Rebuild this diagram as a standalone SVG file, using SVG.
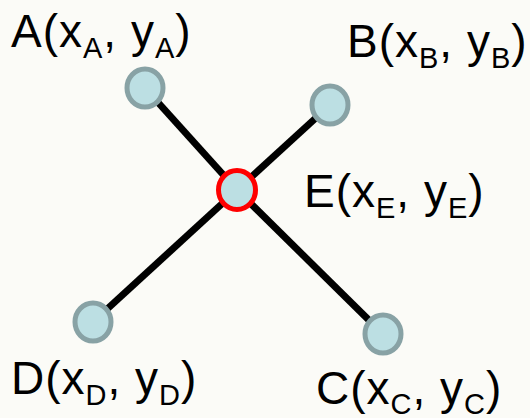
<svg xmlns="http://www.w3.org/2000/svg" width="530" height="418" viewBox="0 0 530 418">
<style>
.lbl{font-family:"Liberation Sans",Arial,sans-serif;font-size:46px;letter-spacing:1px;fill:#000}
.sub{font-size:29px}
.node{fill:#bcdfe3;stroke:#88a2a5;stroke-width:5}
.center{fill:#bcdfe3;stroke:#ff0000;stroke-width:5}
.edge{stroke:#000;stroke-width:7;fill:none}
</style>
<rect width="530" height="418" fill="#fbfbf7"/>
<g id="connectors">
<line class="edge" x1="145" y1="88" x2="237" y2="190"/>
<line class="edge" x1="237" y1="190" x2="383" y2="334"/>
<line class="edge" x1="330" y1="105" x2="237" y2="190"/>
<line class="edge" x1="237" y1="190" x2="93" y2="322"/>
</g>
<g id="A">
<ellipse class="node" cx="145" cy="88" rx="18" ry="19"/>
<text class="lbl" x="11" y="47">A(x<tspan class="sub" dy="11">A</tspan><tspan dy="-11">, y</tspan><tspan class="sub" dy="11">A</tspan><tspan dy="-11">)</tspan></text>
</g>
<g id="B">
<ellipse class="node" cx="330" cy="105" rx="18" ry="19"/>
<text class="lbl" x="347" y="57">B(x<tspan class="sub" dy="11">B</tspan><tspan dy="-11">, y</tspan><tspan class="sub" dy="11">B</tspan><tspan dy="-11">)</tspan></text>
</g>
<g id="C">
<ellipse class="node" cx="383" cy="334" rx="18" ry="19"/>
<text class="lbl" x="316" y="404">C(x<tspan class="sub" dy="10">C</tspan><tspan dy="-10">, y</tspan><tspan class="sub" dy="10">C</tspan><tspan dy="-10">)</tspan></text>
</g>
<g id="D">
<ellipse class="node" cx="93" cy="322" rx="18" ry="19"/>
<text class="lbl" x="11" y="394">D(x<tspan class="sub" dy="11">D</tspan><tspan dy="-11">, y</tspan><tspan class="sub" dy="11">D</tspan><tspan dy="-11">)</tspan></text>
</g>
<g id="E">
<ellipse class="center" cx="237" cy="190" rx="18.5" ry="19.5"/>
<text class="lbl" x="304" y="207">E(x<tspan class="sub" dy="11">E</tspan><tspan dy="-11">, y</tspan><tspan class="sub" dy="11">E</tspan><tspan dy="-11">)</tspan></text>
</g>
</svg>
